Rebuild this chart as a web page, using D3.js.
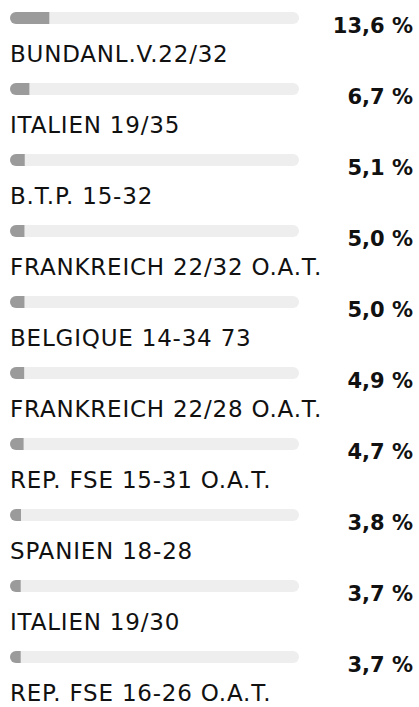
<!DOCTYPE html>
<html>
<head>
<meta charset="utf-8">
<script src="https://cdn.jsdelivr.net/npm/d3@7"></script>
<style>
  html, body { margin: 0; padding: 0; background: #fff; }
  svg { display: block; }
</style>
</head>
<body>
<svg id="chart" width="419" height="707"></svg>
<script>
// Top holdings, share of fund assets (%)
const categories = [
  "BUNDANL.V.22/32",
  "ITALIEN 19/35",
  "B.T.P. 15-32",
  "FRANKREICH 22/32 O.A.T.",
  "BELGIQUE 14-34 73",
  "FRANKREICH 22/28 O.A.T.",
  "REP. FSE 15-31 O.A.T.",
  "SPANIEN 18-28",
  "ITALIEN 19/30",
  "REP. FSE 16-26 O.A.T."
];
const values = [13.6, 6.7, 5.1, 5.0, 5.0, 4.9, 4.7, 3.8, 3.7, 3.7];
const valueLabels = ["13,6 %", "6,7 %", "5,1 %", "5,0 %", "5,0 %", "4,9 %", "4,7 %", "3,8 %", "3,7 %", "3,7 %"];

const svg = d3.select("#chart");

const rowH = 71;
const barH = 12;
const barY = 12;
const FONT = "'DejaVu Sans', 'Open Sans', sans-serif";

const x = d3.scaleLinear().domain([0, 100]).range([10, 299]);

const rows = d3.range(categories.length).map(i => ({
  cat: categories[i], v: values[i], label: valueLabels[i]
}));

svg.append("defs").append("clipPath").attr("id", "track-clip")
  .append("rect")
  .attr("x", x(0)).attr("y", barY)
  .attr("width", x(100) - x(0)).attr("height", barH)
  .attr("rx", barH / 2).attr("ry", barH / 2);

const g = svg.selectAll("g.row").data(rows).join("g")
  .attr("class", "row")
  .attr("transform", (d, i) => `translate(0,${i * rowH})`);

// background track
g.append("rect")
  .attr("x", x(0)).attr("y", barY)
  .attr("width", x(100) - x(0)).attr("height", barH)
  .attr("rx", barH / 2).attr("ry", barH / 2)
  .attr("fill", "#eeeeee");

// filled share, clipped to the rounded track
g.append("rect")
  .attr("clip-path", "url(#track-clip)")
  .attr("x", x(0)).attr("y", barY)
  .attr("width", d => x(d.v) - x(0)).attr("height", barH)
  .attr("fill", "#9b9b9b");

// value label
g.append("text")
  .attr("x", 413).attr("y", 33)
  .attr("text-anchor", "end")
  .attr("font-family", FONT)
  .attr("font-weight", 700)
  .attr("font-size", 21)
  .attr("fill", "#111")
  .text(d => d.label);

// category label
g.append("text")
  .attr("x", 10).attr("y", 62)
  .attr("font-family", FONT)
  .attr("font-weight", 400)
  .attr("font-size", 23)
  .attr("letter-spacing", 0.8)
  .attr("fill", "#111")
  .text(d => d.cat);
</script>
</body>
</html>
